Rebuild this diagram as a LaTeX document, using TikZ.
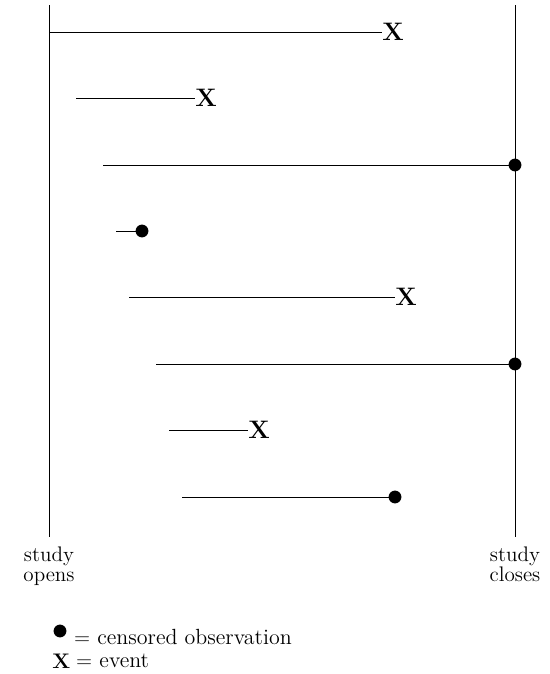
\documentclass[tikz,border=0pt]{standalone}
\usetikzlibrary{positioning}
\tikzset{
  bar/.style={line width=.45pt},
  evt/.style={inner sep=0pt,anchor=west,font=\Large},
  cens/.style={circle,fill=black,inner sep=0pt,minimum size=7.3pt},
  lbl/.style={align=center,inner sep=0pt,font=\large,anchor=north},
  key/.style={anchor=west,inner sep=0pt,font=\fontsize{12.5}{15}\selectfont}
}
\begin{document}
\begin{tikzpicture}[x=0.02cm,y=-0.02cm]
\useasboundingbox (0,0) rectangle (549,674);
% study window
\coordinate (ot) at (49,5);
\coordinate (ob) at (49,537);
\coordinate (ct) at (515,5);
\coordinate (cb) at (515,537);
\draw[bar] (ot)--(ob);
\draw[bar] (ct)--(cb);
\node[lbl] (open) at (49,547) {study\\[-3pt]opens};
\node[lbl] (close) at (515,547) {study\\[-3pt]closes};
% subjects ending in an event
\foreach \i/\xs/\xe/\y in {1/49/382/32,2/76/195/98,5/129/395/297,7/169/248/430}{
  \coordinate (s\i) at (\xs,\y);
  \node[evt] (e\i) at (\xe,\y) {$\mathbf{X}$};
  \draw[bar] (s\i)--(e\i.west);
}
% censored subjects
\foreach \i/\xs/\xe/\y in {3/103/515/165,4/116/142/231,6/156/515/364,8/182/395/497}{
  \coordinate (s\i) at (\xs,\y);
  \node[cens] (e\i) at (\xe,\y) {};
  \draw[bar] (s\i)--(e\i.center);
}
% legend
\node[cens] (kc) at (60,631) {};
\node[key] (kct) at ([xshift=4pt]kc.east |- 0,637) {$=$ censored observation};
\node[key,font=\large] (ke) at (52,661) {$\mathbf{X}$};
\node[key] (ket) at ([xshift=3pt]ke.east) {$=$ event};
\end{tikzpicture}
\end{document}
